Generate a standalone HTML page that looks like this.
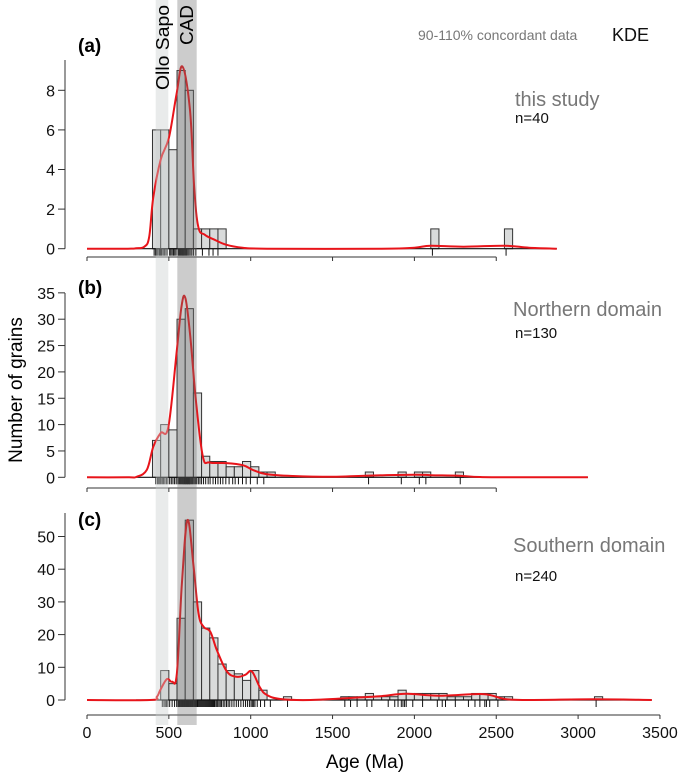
<!DOCTYPE html>
<html><head><meta charset="utf-8">
<style>
html,body{margin:0;padding:0;background:#fff;}
svg{display:block;font-family:"Liberation Sans",Arial,sans-serif;}
</style></head>
<body>
<svg id="chart" width="685" height="776" viewBox="0 0 685 776" xmlns="http://www.w3.org/2000/svg">
<g id="plots"></g>
<g id="bands"></g>
<g id="labels">
<text x="418" y="40" font-size="14" fill="#777">90-110% concordant data</text>
<text x="612" y="41" font-size="18" fill="#111">KDE</text>
<text x="78" y="52" font-size="19" font-weight="bold">(a)</text>
<text x="78" y="294" font-size="19" font-weight="bold">(b)</text>
<text x="78" y="526" font-size="19" font-weight="bold">(c)</text>
<text x="515" y="106" font-size="20" fill="#777">this study</text>
<text x="515" y="123" font-size="15" fill="#111">n=40</text>
<text x="513" y="316" font-size="20" fill="#777">Northern domain</text>
<text x="515" y="338" font-size="15" fill="#111">n=130</text>
<text x="513" y="552" font-size="20" fill="#777">Southern domain</text>
<text x="515" y="581" font-size="15" fill="#111">n=240</text>
<text transform="translate(22,390) rotate(-90)" text-anchor="middle" font-size="19">Number of grains</text>
<text x="365" y="768" text-anchor="middle" font-size="19">Age (Ma)</text>
<text transform="translate(169,90) rotate(-90)" font-size="18" textLength="85" lengthAdjust="spacingAndGlyphs">Ollo Sapo</text>
<text transform="translate(193,45) rotate(-90)" font-size="18" textLength="40" lengthAdjust="spacingAndGlyphs">CAD</text>
</g>
</svg>
<script>
// ---- data ----
const binWidth = 50;
const aBinStarts = [400,450,500,550,600,650,700,750,800,2100,2550];
const aCounts    = [6,6,5,9,8,1,1,1,1,1,1];
const bBinStarts = [400,450,500,550,600,650,700,750,800,850,900,950,1000,1050,1100,1700,1900,2000,2050,2250];
const bCounts    = [7,10,9,30,32,16,4,3,3,2,2,3,2,1,1,1,1,1,1,1];
const cBinStarts = [450,500,550,600,650,700,750,800,850,900,950,1000,1050,1200,1550,1600,1650,1700,1750,1800,1850,1900,1950,2000,2050,2100,2150,2200,2250,2300,2350,2400,2450,2500,2550,3100];
const cCounts    = [9,5,25,55,30,22,19,11,9,8,6,9,3,1,1,1,1,2,1,1,1,3,2,2,2,2,2,1,1,1,2,2,2,1,1,1];

const aKdeAges = [0,250,300,350,380,405,450,500,547,583,629,655,680,720,780,850,950,1100,1800,2000,2100,2300,2550,2700,2870];
const aKdeVals = [0,0,0.02,0.1,0.6,2.6,4.5,5.6,7.8,9.2,7,3.1,1.1,0.7,0.45,0.2,0.05,0,0,0.05,0.15,0.1,0.15,0.05,0];
const bKdeAges = [0,250,303,365,405,450,497,547,577,601,631,667,708,749,850,952,1013,1094,1257,1500,1700,2000,2100,2270,2400,2600,3060];
const bKdeVals = [0,0,0.1,1.4,5.8,8.4,9.6,23.5,32.4,34,26.7,14,3.9,2.8,2.7,2.3,1.4,0.6,0.25,0.1,0.3,0.5,0.4,0.3,0.05,0,0];
const cKdeAges = [0,385,427,447,488,519,549,580,614,651,681,712,753,793,855,916,967,1008,1059,1100,1181,1365,1670,1800,1953,2150,2420,2550,2700,3100,3450];
const cKdeVals = [0,0,1,3,6.4,5.6,8.2,35.7,55,40.8,26.5,22.4,20.9,15.3,8.7,7.1,7.7,8.7,3.6,1.5,0.3,0,0.8,1.2,1.9,1.3,1.8,0.3,0,0.2,0];

const aRug = [410,418,425,432,440,446,452,458,466,474,482,490,505,512,520,528,536,544,556,562,568,574,580,585,590,596,602,608,615,622,630,640,650,665,705,745,770,800,2110,2560];
const bRug = [420,430,438,445,452,460,468,476,485,494,505,515,525,535,545,555,562,568,574,580,585,590,594,598,602,606,610,614,618,622,626,630,636,642,648,655,662,670,680,690,700,712,725,740,752,770,785,800,815,830,848,868,890,905,925,950,972,998,1040,1080,1720,1920,2030,2070,2280];
const cRug = [460,470,478,486,494,505,520,535,548,556,562,568,574,578,582,586,590,594,598,602,606,610,614,618,622,626,630,634,638,642,646,650,655,660,665,670,675,680,686,692,698,704,710,716,722,728,734,740,746,752,758,764,770,776,782,790,798,806,814,822,832,842,852,862,872,885,898,912,925,940,955,968,980,992,1002,1010,1018,1026,1040,1060,1085,1120,1225,1575,1610,1650,1710,1740,1840,1880,1900,1920,1930,1940,1950,1990,2050,2140,2170,2190,2250,2330,2370,2400,2430,2440,2460,2510,3110];

// ---- scales ----
const X0 = 87, PXMA = 0.1637;
function xs(a){ return X0 + a*PXMA; }
const panels = [
  {id:'a', y0:248.7, ppu:19.8, yTicks:[0,2,4,6,8], yTop:60, axisY:257, axisMax:2500, starts:aBinStarts, counts:aCounts, kA:aKdeAges, kV:aKdeVals, rug:aRug, baseFrom:270, baseTo:2870},
  {id:'b', y0:477.3, ppu:5.27, yTicks:[0,5,10,15,20,25,30,35], yTop:293, axisY:488, axisMax:2500, starts:bBinStarts, counts:bCounts, kA:bKdeAges, kV:bKdeVals, rug:bRug, baseFrom:300, baseTo:3060},
  {id:'c', y0:700, ppu:3.27, yTicks:[0,10,20,30,40,50], yTop:513, axisY:715, axisMax:3500, starts:cBinStarts, counts:cCounts, kA:cKdeAges, kV:cKdeVals, rug:cRug, baseFrom:300, baseTo:3450, labels:true}
];
const NS = 'http://www.w3.org/2000/svg';
function mk(tag, attrs, parent){
  const e = document.createElementNS(NS, tag);
  for (const k in attrs) e.setAttribute(k, attrs[k]);
  parent.appendChild(e); return e;
}
function smoothPath(pts){
  let d = 'M' + pts[0][0].toFixed(1) + ',' + pts[0][1].toFixed(1);
  for (let i = 0; i < pts.length - 1; i++) {
    const p0 = pts[Math.max(0, i-1)], p1 = pts[i], p2 = pts[i+1], p3 = pts[Math.min(pts.length-1, i+2)];
    const t = 0.18;
    const c1x = p1[0] + (p2[0]-p0[0])*t, c1y = p1[1] + (p2[1]-p0[1])*t;
    const c2x = p2[0] - (p3[0]-p1[0])*t, c2y = p2[1] - (p3[1]-p1[1])*t;
    d += ' C' + c1x.toFixed(1) + ',' + c1y.toFixed(1) + ' ' + c2x.toFixed(1) + ',' + c2y.toFixed(1) + ' ' + p2[0].toFixed(1) + ',' + p2[1].toFixed(1);
  }
  return d;
}
const plots = document.getElementById('plots');
panels.forEach(p => {
  const g = mk('g', {}, plots);
  
  
  const ys = v => p.y0 - v*p.ppu;
  const yl = mk('line', {x1:65, x2:65, y1:ys(0), y2:p.yTop, stroke:'#333', 'stroke-width':1}, g);
  
  
  p.yTicks.forEach(t => {
    mk('line', {x1:58, x2:65, y1:ys(t), y2:ys(t), stroke:'#333', 'stroke-width':1}, g);
    const tx = mk('text', {x:55, y:ys(t)+6, 'text-anchor':'end', 'font-size':16, fill:'#111'}, g);
    tx.textContent = t;
    
    
  });
  p.starts.forEach((s, i) => {
    const r = mk('rect', {x:xs(s), y:ys(p.counts[i]), width:binWidth*PXMA, height:p.counts[i]*p.ppu, fill:'#d9dbdb', stroke:'#333', 'stroke-width':1}, g);
    
    
  });
  mk('line', {x1:xs(p.baseFrom), x2:xs(p.baseTo), y1:ys(0), y2:ys(0), stroke:'#111', 'stroke-width':1.2}, g);
  p.rug.forEach(a => {
    const l = mk('line', {x1:xs(a), x2:xs(a), y1:ys(0), y2:ys(0)+7, stroke:'#111', 'stroke-width':1}, g);
    
    
  });
  const pts = p.kA.map((a, i) => [xs(a), ys(p.kV[i])]);
  const k = mk('path', {d:smoothPath(pts), fill:'none', stroke:'#e8141a', 'stroke-width':2, 'stroke-linejoin':'round'}, g);
  
  
  const xl = mk('line', {x1:xs(0), x2:xs(p.axisMax), y1:p.axisY, y2:p.axisY, stroke:'#333', 'stroke-width':1}, g);
  
  
  for (let t = 0; t <= p.axisMax; t += 500) {
    mk('line', {x1:xs(t), x2:xs(t), y1:p.axisY, y2:p.axisY+4, stroke:'#333', 'stroke-width':1}, g);
    if (p.labels) {
      const tx = mk('text', {x:xs(t), y:p.axisY+23, 'text-anchor':'middle', 'font-size':16, fill:'#111'}, g);
      tx.textContent = t;
      
      
    }
  }
});
const bands = document.getElementById('bands');
const ob = mk('rect', {x:155.7, y:0, width:12.6, height:725, fill:'rgb(200,206,206)', 'fill-opacity':0.4}, bands);


const cb = mk('rect', {x:177.3, y:0, width:19.4, height:725, fill:'rgb(110,110,110)', 'fill-opacity':0.35}, bands);


</script>
</body></html>
